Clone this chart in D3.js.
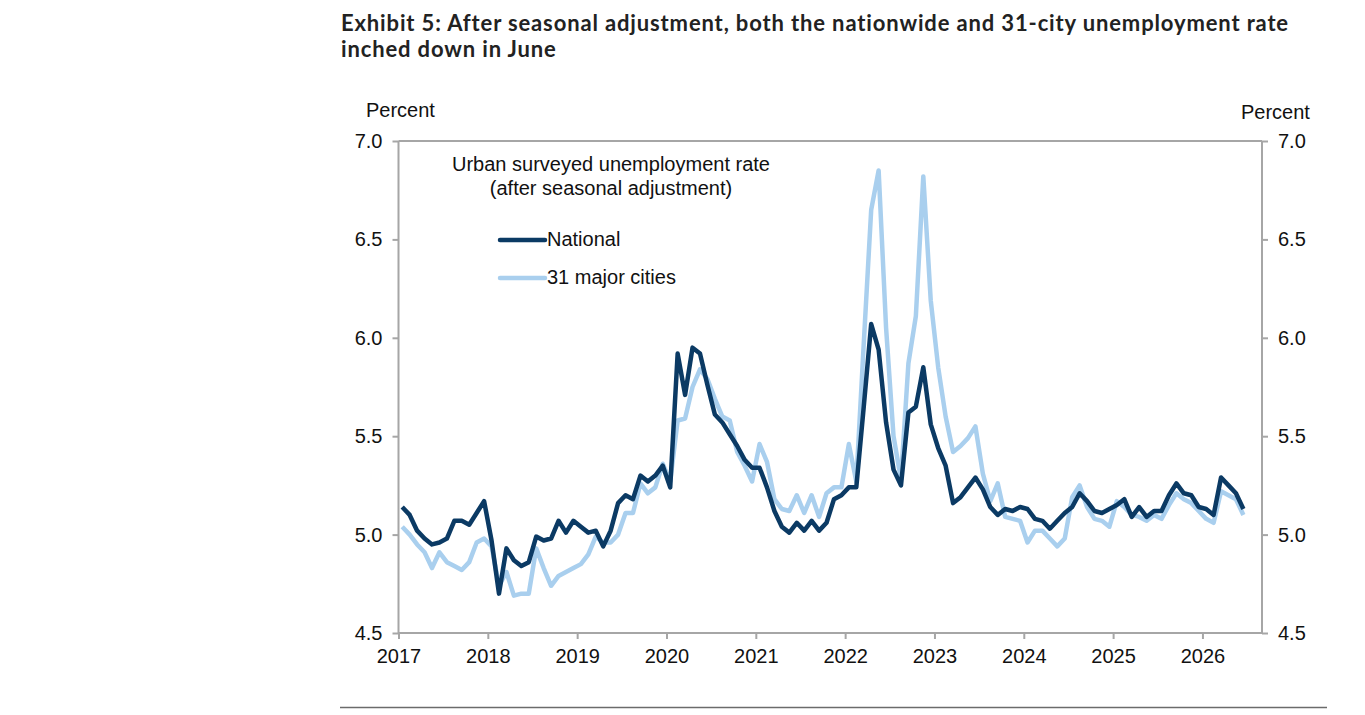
<!DOCTYPE html>
<html>
<head>
<meta charset="utf-8">
<script src="https://cdn.jsdelivr.net/npm/d3@7"></script>
<style>
  html, body { margin: 0; padding: 0; background: #fff; }
  svg { display: block; }
</style>
</head>
<body>
<svg id="chart" width="1365" height="715"></svg>
<script>
// ---- Data (monthly, Jan 2017 – Jun 2026) ----
const yearTicks = ["2017","2018","2019","2020","2021","2022","2023","2024","2025","2026"];
const yTickValues = [4.5, 5.0, 5.5, 6.0, 6.5, 7.0];

const national = [
  5.14,5.10,5.02,4.98,4.95,4.96,4.98,5.07,5.07,5.05,5.11,5.17,
  4.97,4.70,4.93,4.87,4.84,4.86,4.99,4.97,4.98,5.07,5.01,5.07,
  5.04,5.01,5.02,4.94,5.02,5.16,5.20,5.18,5.30,5.27,5.30,5.35,
  5.24,5.92,5.71,5.95,5.92,5.76,5.61,5.57,5.51,5.45,5.38,5.34,
  5.34,5.24,5.12,5.04,5.01,5.06,5.02,5.07,5.02,5.06,5.18,5.20,
  5.24,5.24,5.65,6.07,5.94,5.57,5.33,5.25,5.62,5.65,5.85,5.56,
  5.44,5.35,5.16,5.19,5.24,5.29,5.23,5.14,5.10,5.13,5.12,5.14,
  5.13,5.08,5.07,5.03,5.07,5.11,5.14,5.21,5.17,5.12,5.11,5.13,
  5.15,5.18,5.09,5.14,5.09,5.12,5.12,5.20,5.26,5.21,5.20,5.14,
  5.13,5.10,5.29,5.25,5.21,5.13
];
const cities31 = [
  5.04,5.00,4.95,4.91,4.83,4.91,4.86,4.84,4.82,4.86,4.96,4.98,
  4.94,4.74,4.81,4.69,4.70,4.70,4.93,4.83,4.74,4.79,4.81,4.83,
  4.85,4.90,4.99,4.96,4.96,5.00,5.11,5.11,5.26,5.21,5.24,5.36,
  5.27,5.58,5.59,5.75,5.84,5.79,5.69,5.60,5.58,5.42,5.35,5.27,
  5.46,5.37,5.18,5.13,5.12,5.20,5.11,5.20,5.09,5.21,5.24,5.24,
  5.46,5.27,5.97,6.65,6.85,6.05,5.50,5.28,5.87,6.11,6.82,6.19,
  5.85,5.60,5.42,5.45,5.49,5.55,5.31,5.17,5.26,5.09,5.08,5.07,
  4.96,5.02,5.02,4.98,4.94,4.98,5.19,5.25,5.14,5.08,5.07,5.04,
  5.17,5.14,5.10,5.09,5.07,5.10,5.08,5.15,5.21,5.18,5.16,5.12,
  5.08,5.06,5.22,5.20,5.18,5.10
];

const seriesNames = ["National", "31 major cities"];
const seriesColors = ["#0b3a64", "#a9cfee"];
const titleLines = [
  "Exhibit 5: After seasonal adjustment, both the nationwide and 31-city unemployment rate",
  "inched down in June"
];
const legendTitle = ["Urban surveyed unemployment rate", "(after seasonal adjustment)"];

// ---- Layout ----
const svg = d3.select("#chart");
const L = 398.5, R = 1262, T = 141, B = 633;
const axisColor = "#a6a6a6";
const font = "'Liberation Sans', Arial, sans-serif";
const fsText = 20;

const x = d3.scaleLinear().domain([0, 116]).range([L, R]);
const y = d3.scaleLinear().domain([4.5, 7.0]).range([B, T]);

// Title
const title = svg.append("g").attr("font-family", "Lato, 'Open Sans', sans-serif")
  .attr("font-weight", 700).attr("fill", "#222").attr("font-size", 22);
const t1 = title.append("text").attr("x", 341).attr("y", 31).text(titleLines[0]);
title.append("text").attr("x", 341).attr("y", 57).text(titleLines[1]);
const w = t1.node().getComputedTextLength();
const ls = Math.max(0, Math.min(1.5, (947 - w) / (titleLines[0].length - 1)));
title.attr("letter-spacing", ls);

// Frame: top border
svg.append("line").attr("x1", L).attr("x2", R).attr("y1", T).attr("y2", T)
  .attr("stroke", axisColor).attr("stroke-width", 2);

// Axes
const yLeft = d3.axisLeft(y).tickValues(yTickValues).tickFormat(d3.format(".1f")).tickSizeOuter(0).tickSize(6).tickPadding(10);
const gl = svg.append("g").attr("transform", `translate(${L},0)`).call(yLeft);
const yRight = d3.axisRight(y).tickValues(yTickValues).tickFormat(d3.format(".1f")).tickSizeOuter(0).tickSize(6).tickPadding(10);
const gr = svg.append("g").attr("transform", `translate(${R},0)`).call(yRight);
const xTickVals = yearTicks.map((d, i) => i * 12);
const xAxis = d3.axisBottom(x).tickValues(xTickVals).tickFormat((d, i) => yearTicks[i]).tickSizeOuter(0).tickSize(6).tickPadding(5);
const gb = svg.append("g").attr("transform", `translate(0,${B})`).call(xAxis);

[gl, gr, gb].forEach(g => {
  g.select(".domain").attr("stroke", axisColor).attr("stroke-width", 2);
  g.selectAll(".tick line").attr("stroke", axisColor).attr("stroke-width", 2);
  g.selectAll(".tick text").attr("font-family", font).attr("font-size", fsText).attr("fill", "#111");
});
gl.select(".domain").attr("d", `M0,${B}V${T}`);
gr.select(".domain").attr("d", `M0,${B}V${T}`);
gb.select(".domain").attr("d", `M${L},0H${R}`);
gb.selectAll(".tick text").attr("dy", "0.95em");

// Axis unit labels
svg.append("text").attr("x", 366).attr("y", 117).attr("font-family", font).attr("font-size", fsText)
  .attr("fill", "#111").text("Percent");
svg.append("text").attr("x", 1241).attr("y", 119).attr("font-family", font).attr("font-size", fsText)
  .attr("fill", "#111").text("Percent");

// Lines
const line = d3.line().x((d, i) => x(i + 0.5)).y(d => y(d));
const allSeries = [cities31, national];
const allColors = [seriesColors[1], seriesColors[0]];
allSeries.forEach((s, k) => {
  svg.append("path").datum(s).attr("d", line)
    .attr("fill", "none").attr("stroke", allColors[k]).attr("stroke-width", 4.5)
    .attr("stroke-linejoin", "round").attr("stroke-linecap", "butt");
});

// Legend
const lg = svg.append("g").attr("font-family", font).attr("font-size", fsText).attr("fill", "#111");
lg.append("text").attr("x", 611).attr("y", 171).attr("text-anchor", "middle").text(legendTitle[0]);
lg.append("text").attr("x", 611).attr("y", 195).attr("text-anchor", "middle").text(legendTitle[1]);
seriesNames.forEach((n, i) => {
  const yy = 240 + i * 38;
  lg.append("line").attr("x1", 500).attr("x2", 545).attr("y1", yy).attr("y2", yy)
    .attr("stroke", seriesColors[i]).attr("stroke-width", 4.5).attr("stroke-linecap", "round");
  lg.append("text").attr("x", 547).attr("y", yy + 5.5).text(n);
});

// Bottom rule
svg.append("line").attr("x1", 340).attr("x2", 1327).attr("y1", 707.5).attr("y2", 707.5)
  .attr("stroke", "#6b6b6b").attr("stroke-width", 1.5);
</script>
</body>
</html>
